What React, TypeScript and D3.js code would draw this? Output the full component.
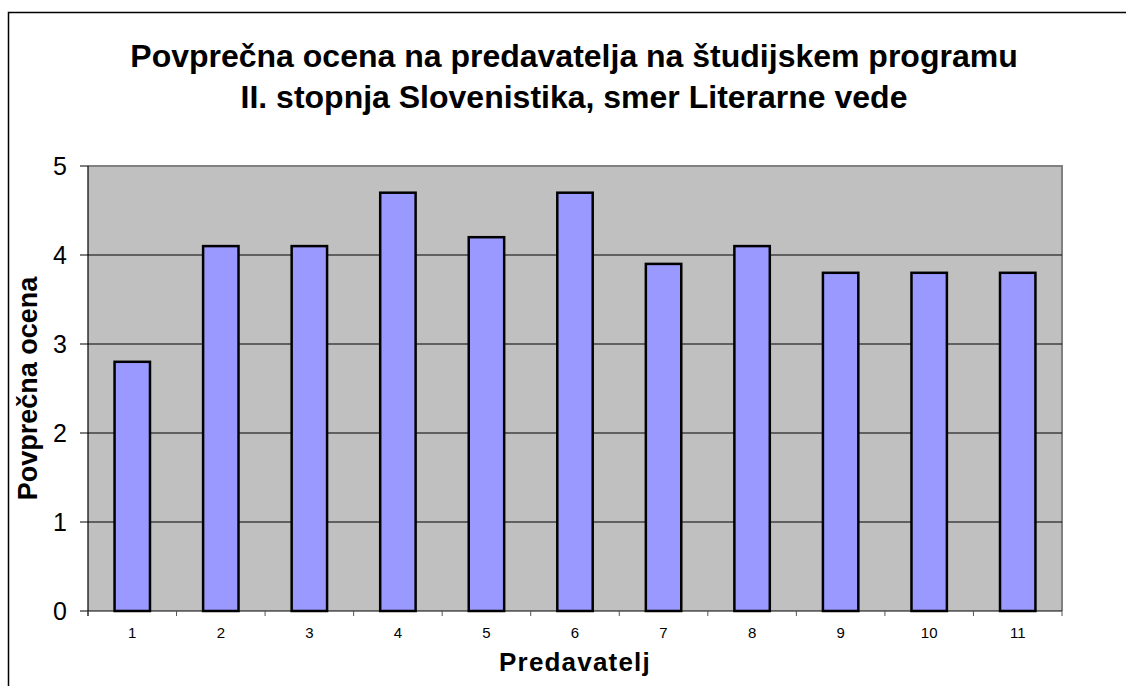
import * as d3 from "d3";

const lecturers = ["1", "2", "3", "4", "5", "6", "7", "8", "9", "10", "11"];
const avgScores = [2.8, 4.1, 4.1, 4.7, 4.2, 4.7, 3.9, 4.1, 3.8, 3.8, 3.8];
const yTicks = [0, 1, 2, 3, 4, 5];
const titleLines = [
  "Povprečna ocena na predavatelja na študijskem programu",
  "II. stopnja Slovenistika, smer Literarne vede",
];

const W = 1126;
const H = 686;
const plot = { left: 88, right: 1062, top: 166, bottom: 611 };
const font = "'Liberation Sans', Arial, sans-serif";

export default function App() {
  const x = d3
    .scaleBand()
    .domain(lecturers)
    .range([plot.left, plot.right])
    .paddingInner(0.6)
    .paddingOuter(0.3);
  const band = d3.scaleBand().domain(lecturers).range([plot.left, plot.right]);
  const y = d3.scaleLinear().domain([0, 5]).range([plot.bottom, plot.top]);

  const barW = band.bandwidth() / 2.5;
  const boundaries = lecturers.map((d) => band(d)!).concat([plot.right]);

  return (
    <div style={{ position: "fixed", left: 0, top: 0 }}>
      <svg width={W} height={H} style={{ display: "block", background: "#fff" }}>
        <rect x={8.5} y={12.5} width={W + 20} height={H + 20} fill="#fff" stroke="#000" strokeWidth={1.5} />

        {titleLines.map((t, i) => (
          <text
            key={i}
            x={574}
            y={67 + i * 41}
            textAnchor="middle"
            fontFamily={font}
            fontWeight="bold"
            fontSize={32}
            fill="#000"
          >
            {t}
          </text>
        ))}

        <rect
          x={plot.left}
          y={plot.top}
          width={plot.right - plot.left}
          height={plot.bottom - plot.top}
          fill="#C0C0C0"
        />
        <path
          d={`M${plot.left},${plot.top}H${plot.right}V${plot.bottom}`}
          fill="none"
          stroke="#808080"
          strokeWidth={2}
        />

        {yTicks.slice(1, 5).map((t) => (
          <line key={t} x1={plot.left} x2={plot.right} y1={y(t)} y2={y(t)} stroke="#000" strokeWidth={1} />
        ))}

        {lecturers.map((d, i) => {
          const cx = band(d)! + band.bandwidth() / 2;
          return (
            <rect
              key={d}
              x={cx - barW / 2}
              y={y(avgScores[i])}
              width={barW}
              height={plot.bottom - y(avgScores[i])}
              fill="#9999FF"
              stroke="#000"
              strokeWidth={2.5}
            />
          );
        })}

        <line x1={plot.left} x2={plot.left} y1={plot.top} y2={plot.bottom + 5} stroke="#000" strokeWidth={1.2} />
        <line x1={plot.left} x2={plot.right} y1={plot.bottom} y2={plot.bottom} stroke="#000" strokeWidth={1.2} />

        {yTicks.map((t) => (
          <g key={t}>
            <line x1={plot.left - 8} x2={plot.left} y1={y(t)} y2={y(t)} stroke="#000" strokeWidth={1} />
            <text x={67} y={y(t) + 9} textAnchor="end" fontFamily={font} fontSize={25} fill="#000">
              {t}
            </text>
          </g>
        ))}

        {boundaries.map((bx, i) => (
          <line key={i} x1={bx} x2={bx} y1={plot.bottom} y2={plot.bottom + 5} stroke="#555" strokeWidth={1} />
        ))}

        {lecturers.map((d) => (
          <text
            key={d}
            x={x(d)! + x.bandwidth() / 2}
            y={638}
            textAnchor="middle"
            fontFamily={font}
            fontSize={15}
            fill="#000"
          >
            {d}
          </text>
        ))}

        <text
          x={575}
          y={671}
          textAnchor="middle"
          fontFamily={font}
          fontWeight="bold"
          fontSize={26}
          letterSpacing={1.2}
          fill="#000"
        >
          Predavatelj
        </text>

        <text
          transform={`translate(37,${(plot.top + plot.bottom) / 2}) rotate(-90)`}
          textAnchor="middle"
          fontFamily={font}
          fontWeight="bold"
          fontSize={27}
          fill="#000"
        >
          Povprečna ocena
        </text>
      </svg>
    </div>
  );
}
